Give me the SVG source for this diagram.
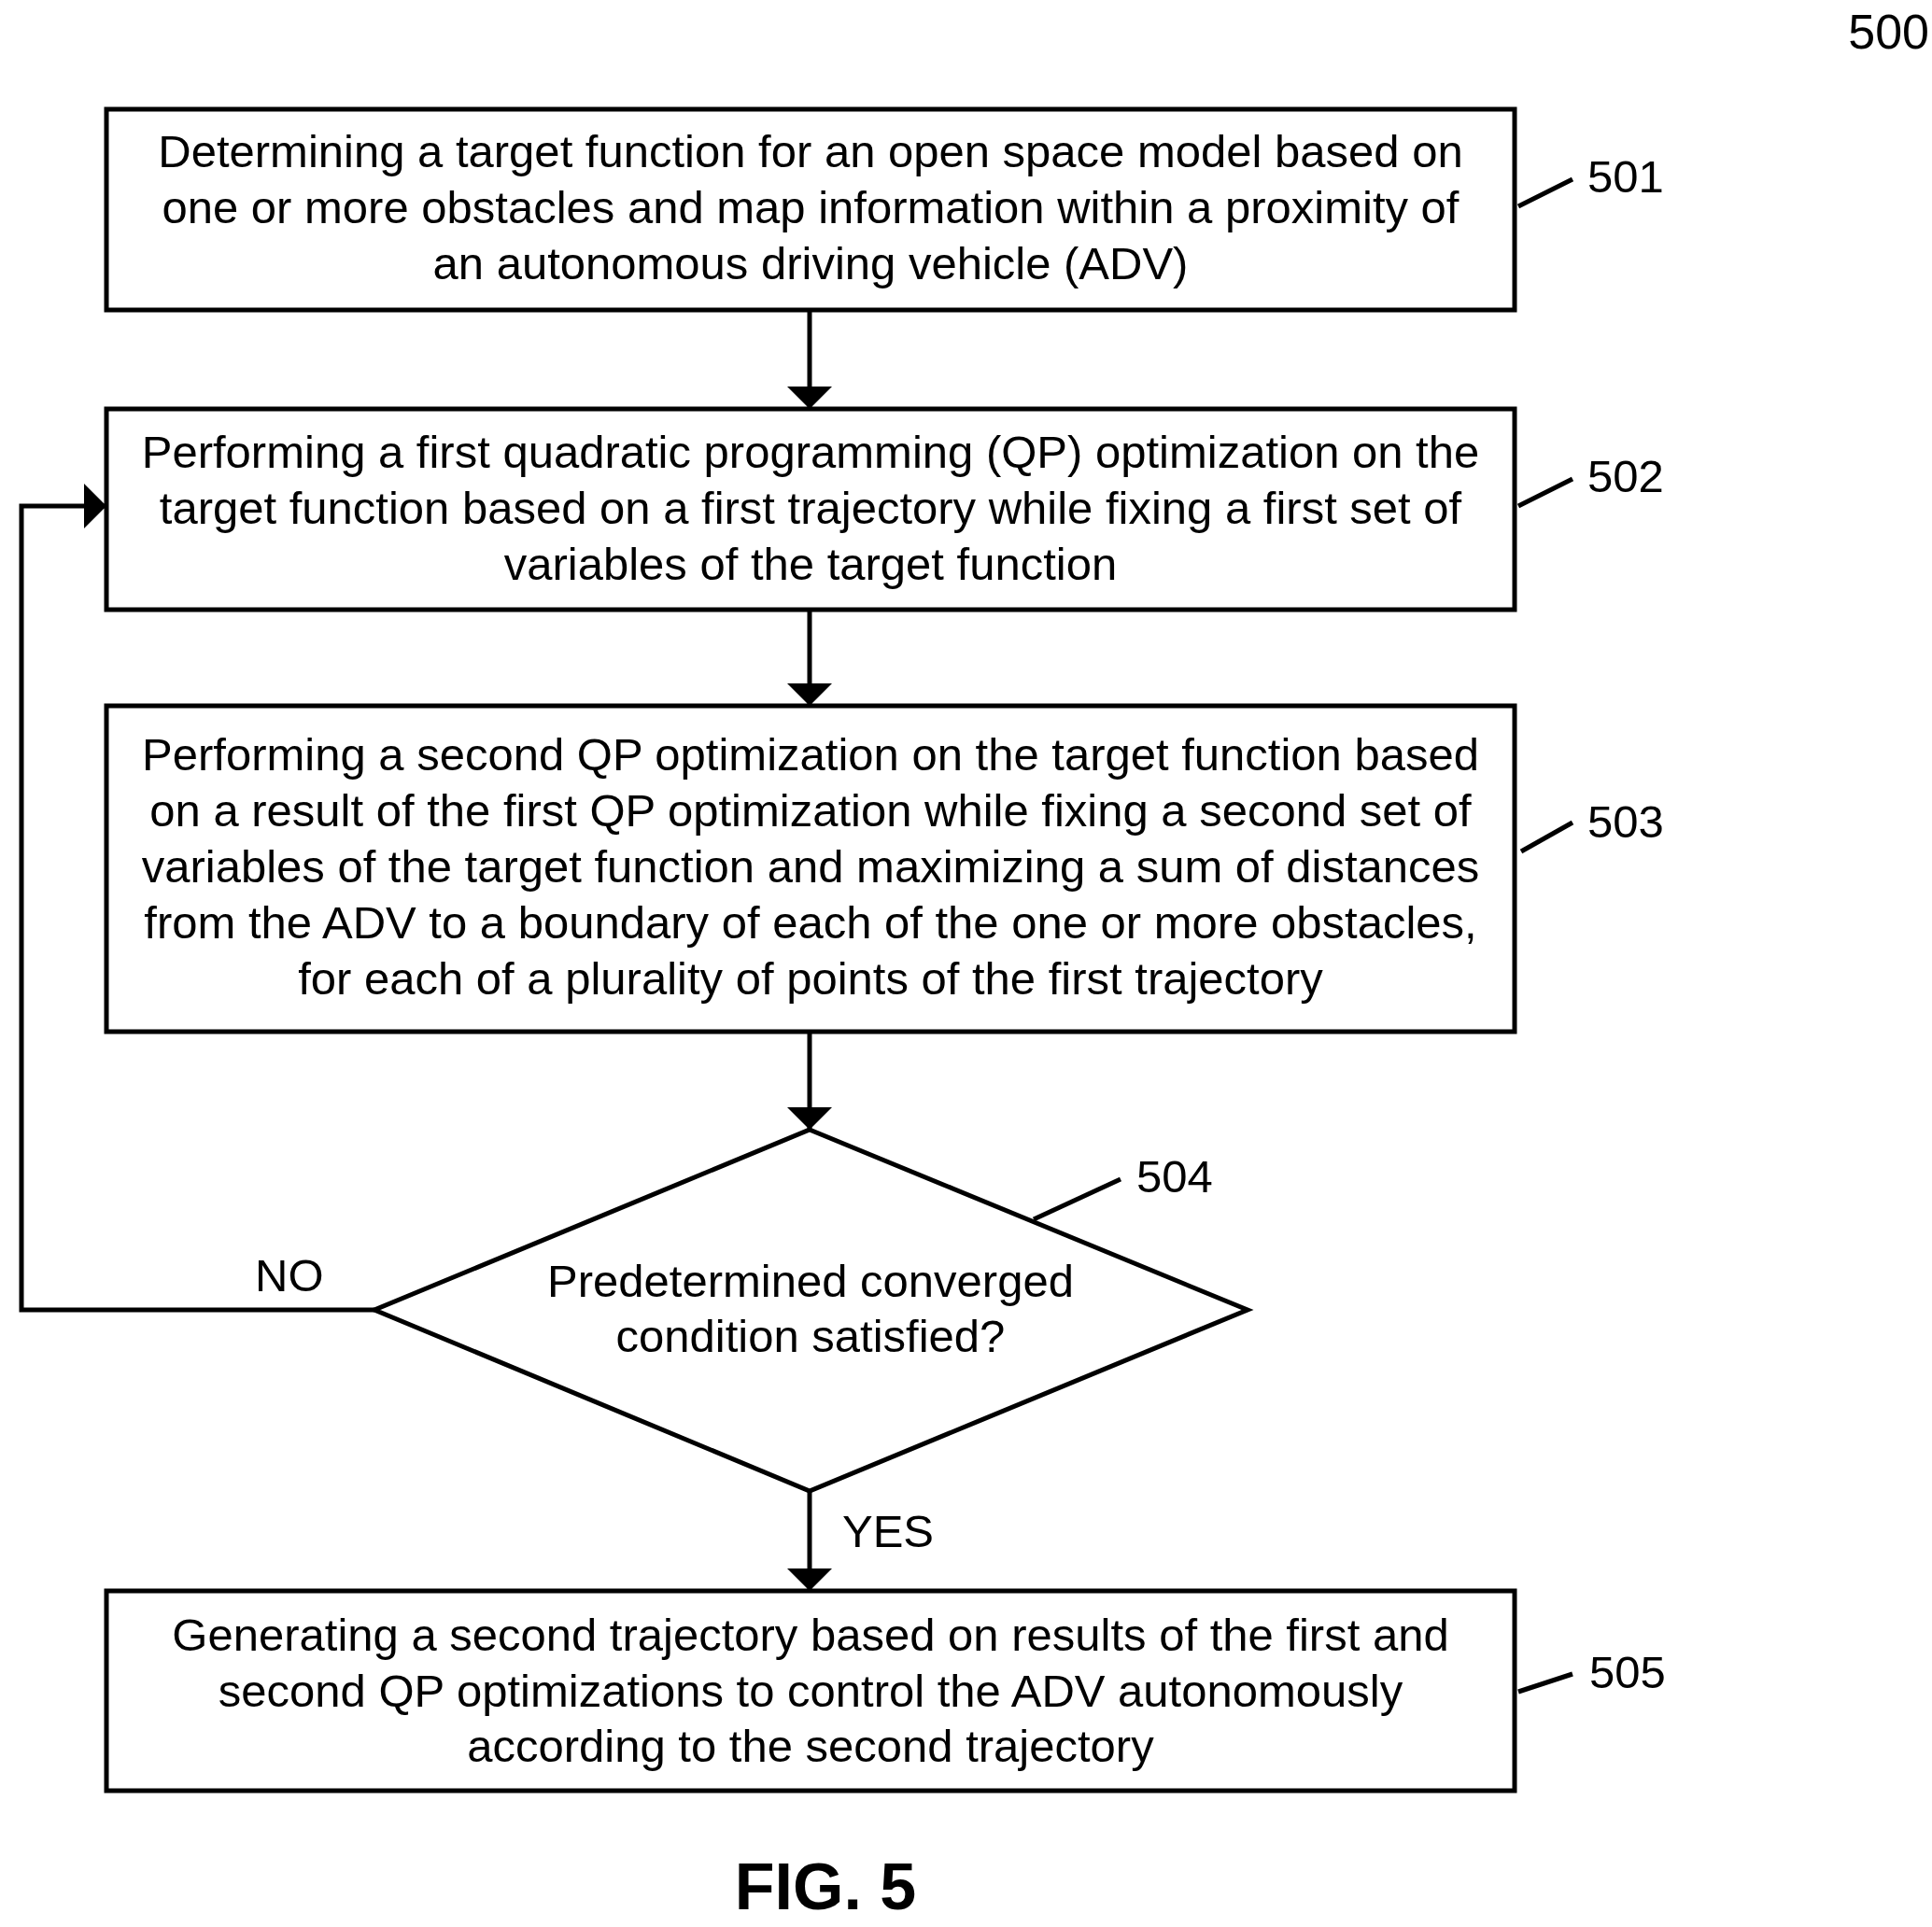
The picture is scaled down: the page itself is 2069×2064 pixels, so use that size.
<svg xmlns="http://www.w3.org/2000/svg" width="2069" height="2064" viewBox="0 0 2069 2064">
<style>
text{font-family:"Liberation Sans",Arial,sans-serif;font-size:49px;fill:#000}
.c{text-anchor:middle}
.b{fill:#fff;stroke:#000;stroke-width:5}
.l{stroke:#000;stroke-width:5;fill:none}
</style>
<defs>
<marker id="h" viewBox="0 0 12 10" refX="12" refY="5" markerWidth="24" markerHeight="48" orient="auto" markerUnits="userSpaceOnUse" preserveAspectRatio="none"><path d="M0,0L12,5L0,10z"/></marker></defs>
<rect width="2069" height="2064" fill="#fff"/>
<text x="2066" y="52" style="text-anchor:end;font-size:52px">500</text>
<g id="connectors">
<path class="l" d="M867,332V438" marker-end="url(#h)"/>
<path class="l" d="M867,653V756" marker-end="url(#h)"/>
<path class="l" d="M867,1105V1210" marker-end="url(#h)"/>
<path class="l" d="M867,1597V1704" marker-end="url(#h)"/>
<path class="l" d="M401,1403H23V542H114" marker-end="url(#h)"/>
<text x="273" y="1383">NO</text>
<text x="902" y="1657">YES</text>
</g>
<g id="n501"><rect class="b" x="114" y="117" width="1508" height="215"/>
<text class="c" x="868" y="179">Determining a target function for an open space model based on</text>
<text class="c" x="868" y="239">one or more obstacles and map information within a proximity of</text>
<text class="c" x="868" y="299">an autonomous driving vehicle (ADV)</text>
<path class="l" d="M1626,221L1684,192"/><text x="1700" y="206">501</text></g>
<g id="n502"><rect class="b" x="114" y="438" width="1508" height="215"/>
<text class="c" x="868" y="501">Performing a first quadratic programming (QP) optimization on the</text>
<text class="c" x="868" y="561">target function based on a first trajectory while fixing a first set of</text>
<text class="c" x="868" y="621">variables of the target function</text>
<path class="l" d="M1626,542L1684,513"/><text x="1700" y="527">502</text></g>
<g id="n503"><rect class="b" x="114" y="756" width="1508" height="349"/>
<text class="c" x="868" y="825">Performing a second QP optimization on the target function based</text>
<text class="c" x="868" y="885">on a result of the first QP optimization while fixing a second set of</text>
<text class="c" x="868" y="945">variables of the target function and maximizing a sum of distances</text>
<text class="c" x="868" y="1005">from the ADV to a boundary of each of the one or more obstacles,</text>
<text class="c" x="868" y="1065">for each of a plurality of points of the first trajectory</text>
<path class="l" d="M1629,912L1684,881"/><text x="1700" y="897">503</text></g>
<g id="n504"><path class="b" d="M867,1210L1336,1403L867,1597L401,1403Z"/>
<text class="c" x="868" y="1389">Predetermined converged</text>
<text class="c" x="868" y="1448">condition satisfied?</text>
<path class="l" d="M1107,1306L1200,1263"/><text x="1217" y="1277">504</text></g>
<g id="n505"><rect class="b" x="114" y="1704" width="1508" height="214"/>
<text class="c" x="868" y="1768">Generating a second trajectory based on results of the first and</text>
<text class="c" x="868" y="1828">second QP optimizations to control the ADV autonomously</text>
<text class="c" x="868" y="1887">according to the second trajectory</text>
<path class="l" d="M1626,1812L1684,1793"/><text x="1702" y="1808">505</text></g>
<text class="c" x="884" y="2045" style="font-size:70px;font-weight:bold">FIG. 5</text>
</svg>
